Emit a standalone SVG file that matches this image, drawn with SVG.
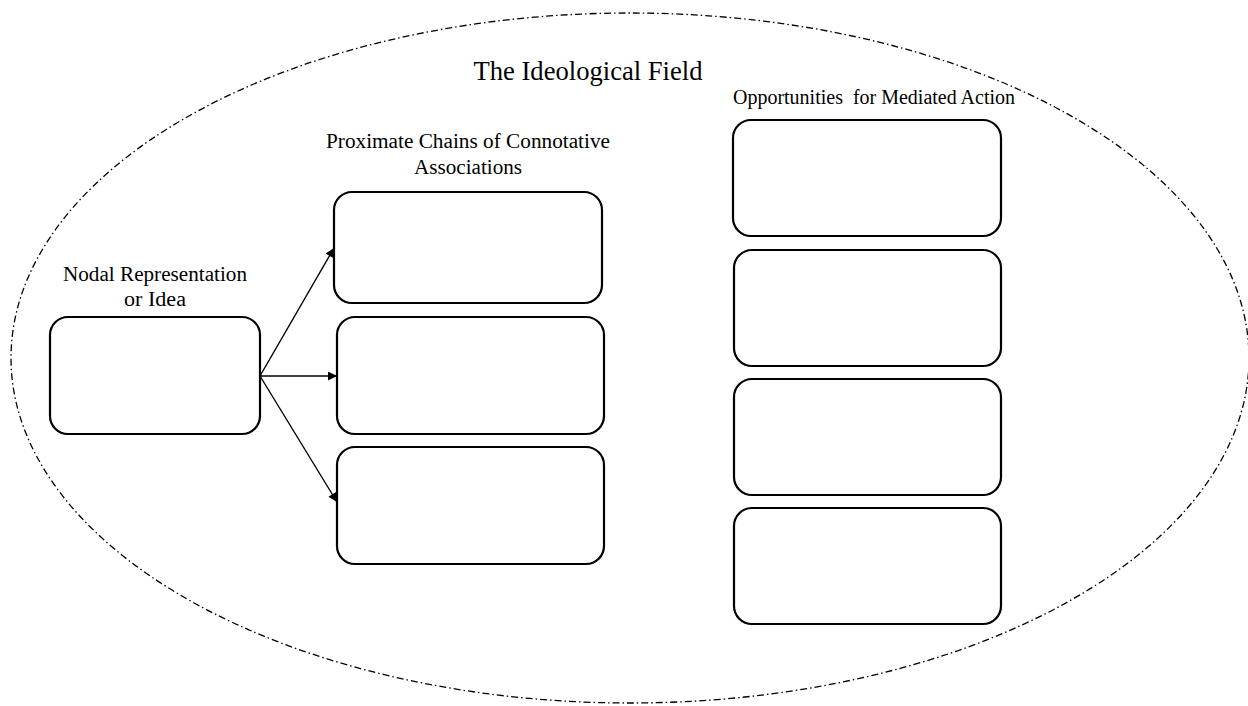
<svg xmlns="http://www.w3.org/2000/svg" width="1248" height="706" viewBox="0 0 1248 706">
  <style>
    .box { fill: #fff; stroke: #000; stroke-width: 2.2; }
    .field { fill: none; stroke: #000; stroke-width: 1.3; stroke-dasharray: 7 3 1.5 3; }
    .link { fill: none; stroke: #000; stroke-width: 1.4; }
    text { font-family: "Liberation Serif", "Times New Roman", serif; fill: #000; text-anchor: middle; }
    .title { font-size: 27px; }
    .label { font-size: 20.5px; }
  </style>
  <defs>
    <marker id="arrow" viewBox="0 0 10 10" refX="10" refY="5" markerWidth="10" markerHeight="9" markerUnits="userSpaceOnUse" orient="auto">
      <path d="M0,0 L10,5 L0,10 z" fill="#000"/>
    </marker>
  </defs>
  <rect width="1248" height="706" fill="#fff"/>

  <!-- outer field -->
  <g id="field">
    <ellipse class="field" cx="630" cy="358" rx="619" ry="345"/>
    <text class="title" x="588" y="80" textLength="229" lengthAdjust="spacingAndGlyphs" font-family="Liberation Serif, serif">The Ideological Field</text>
  </g>

  <!-- nodal idea -->
  <g id="nodal">
    <text class="label" x="155" y="281" textLength="184" lengthAdjust="spacingAndGlyphs" font-family="Liberation Serif, serif">Nodal Representation</text>
    <text class="label" x="155" y="306" textLength="62" lengthAdjust="spacingAndGlyphs" font-family="Liberation Serif, serif">or Idea</text>
    <rect class="box" x="50" y="317" width="210" height="117" rx="18"/>
  </g>

  <!-- proximate chains -->
  <g id="chains">
    <text class="label" x="468" y="148" textLength="284" lengthAdjust="spacingAndGlyphs" font-family="Liberation Serif, serif">Proximate Chains of Connotative</text>
    <text class="label" x="468" y="174" textLength="108" lengthAdjust="spacingAndGlyphs" font-family="Liberation Serif, serif">Associations</text>
  </g>
  <g id="chain-1"><rect class="box" x="334" y="192" width="268" height="111" rx="18"/></g>
  <g id="chain-2"><rect class="box" x="337" y="317" width="267" height="117" rx="18"/></g>
  <g id="chain-3"><rect class="box" x="337" y="447" width="267" height="117" rx="18"/></g>

  <!-- mediated action -->
  <g id="actions">
    <text class="label" x="874" y="104" textLength="282" lengthAdjust="spacingAndGlyphs" font-family="Liberation Serif, serif" xml:space="preserve">Opportunities  for Mediated Action</text>
  </g>
  <g id="action-1"><rect class="box" x="733" y="120" width="268" height="116" rx="18"/></g>
  <g id="action-2"><rect class="box" x="734" y="250" width="267" height="116" rx="18"/></g>
  <g id="action-3"><rect class="box" x="734" y="379" width="267" height="116" rx="18"/></g>
  <g id="action-4"><rect class="box" x="734" y="508" width="267" height="116" rx="18"/></g>

  <!-- connectors -->
  <g id="connectors">
    <line class="link" x1="260" y1="376" x2="334" y2="248" marker-end="url(#arrow)"/>
    <line class="link" x1="260" y1="376" x2="337" y2="376" marker-end="url(#arrow)"/>
    <line class="link" x1="260" y1="376" x2="337" y2="502" marker-end="url(#arrow)"/>
  </g>
</svg>
